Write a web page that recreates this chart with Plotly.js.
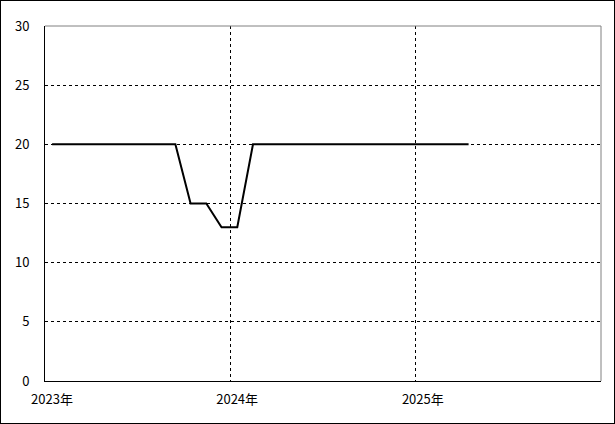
<!DOCTYPE html>
<html>
<head>
<meta charset="utf-8">
<script src="https://cdn.plot.ly/plotly-3.0.1.min.js"></script>
<style>
html, body { margin: 0; padding: 0; background: #fff; }
#chart { width: 613px; height: 422px; border: 1px solid #000; }
</style>
</head>
<body>
<div id="chart"></div>
<script>
var months = [
  '2023-01-15','2023-02-15','2023-03-15','2023-04-15','2023-05-15','2023-06-15',
  '2023-07-15','2023-08-15','2023-09-15','2023-10-15','2023-11-15','2023-12-15',
  '2024-01-15','2024-02-15','2024-03-15','2024-04-15','2024-05-15','2024-06-15',
  '2024-07-15','2024-08-15','2024-09-15','2024-10-15','2024-11-15','2024-12-15',
  '2025-01-15','2025-02-15','2025-03-15','2025-04-15'
];
var values = [
  20, 20, 20, 20, 20, 20,
  20, 20, 20, 15, 15, 13,
  13, 20, 20, 20, 20, 20,
  20, 20, 20, 20, 20, 20,
  20, 20, 20, 20
];
var xTickVals = ['2023-01-01', '2024-01-01', '2025-01-01'];
var xTickText = ['2023年', '2024年', '2025年'];
var xRange = ['2023-01-01', '2026-01-01'];
var yRange = [0, 30];

var font = { family: '"Noto Sans CJK JP", "DejaVu Sans", sans-serif', size: 13, color: '#000' };

var trace = {
  x: months, y: values, type: 'scatter', mode: 'lines',
  line: { color: '#000', width: 2 },
  hoverinfo: 'skip'
};

var layout = {
  width: 613, height: 422,
  margin: { l: 44, r: 13, t: 25, b: 42 },
  paper_bgcolor: '#fff', plot_bgcolor: '#fff',
  showlegend: false,
  font: font,
  xaxis: {
    type: 'date', range: xRange,
    tickmode: 'array', tickvals: xTickVals, ticktext: xTickText,
    showgrid: true, gridcolor: '#000', gridwidth: 1, griddash: '3px,3px',
    showline: true, linecolor: '#000', linewidth: 1,
    zeroline: false, ticks: '', ticklabelshift: 7, ticklabelstandoff: 6,
    tickfont: font, fixedrange: true
  },
  yaxis: {
    range: yRange, dtick: 5, tick0: 0,
    showgrid: true, gridcolor: '#000', gridwidth: 1, griddash: '3px,3px',
    showline: true, linecolor: '#000', linewidth: 1,
    zeroline: false, ticks: '', ticklabelstandoff: 12,
    tickfont: font, fixedrange: true
  },
  shapes: [
    { type: 'line', xref: 'paper', yref: 'paper', x0: 0, x1: 1, y0: 1, y1: 1,
      line: { color: '#808080', width: 1 }, layer: 'above' },
    { type: 'line', xref: 'paper', yref: 'paper', x0: 1, x1: 1, y0: 0, y1: 1,
      line: { color: '#808080', width: 1 }, layer: 'above' }
  ]
};

Plotly.newPlot('chart', [trace], layout, { displayModeBar: false, staticPlot: true });
</script>
</body>
</html>
